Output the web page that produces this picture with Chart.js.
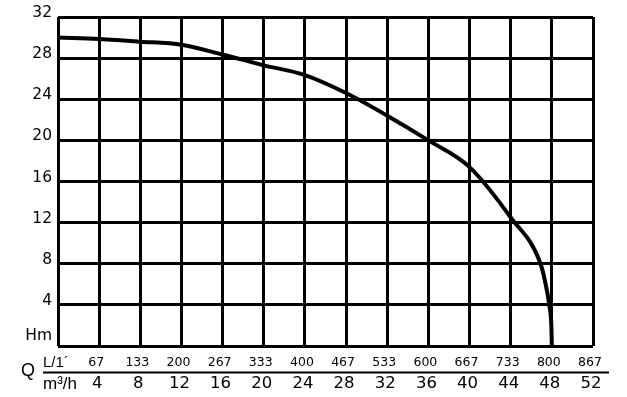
<!DOCTYPE html>
<html>
<head>
<meta charset="utf-8">
<script src="https://cdn.jsdelivr.net/npm/chart.js@4.4.0/dist/chart.umd.min.js"></script>
<style>
body { margin: 0; background: #fff; }
#wrap { width: 627px; height: 397px; }
</style>
</head>
<body>
<div id="wrap"><canvas id="pumpCanvas"></canvas></div>
<script>
// pump curve, Q in m3/h vs head in m
const flowM3h = [0, 4, 8, 12, 16, 20, 24, 28, 32, 36, 40, 44, 46.9, 47.4, 47.75, 47.95, 48];
const headM = [30, 29.85, 29.6, 29.3, 28.35, 27.3, 26.35, 24.6, 22.4, 20, 17.4, 12.5, 8, 6, 4, 2, 0];

const headTicks = ['Hm', '4', '8', '12', '16', '20', '24', '28', '32'];
const flowTicks = ['', '4', '8', '12', '16', '20', '24', '28', '32', '36', '40', '44', '48', '52'];
const litreTicks = ['', '67', '133', '200', '267', '333', '400', '467', '533', '600', '667', '733', '800', '867'];

const font = "'Liberation Sans', Arial, sans-serif";
const tickFont = "'DejaVu Sans', sans-serif";

const axisNotes = {
	id: 'axisNotes',
	afterDraw(chart) {
		const ctx = chart.ctx;
		const area = chart.chartArea;
		const xs = chart.scales.x;
		const lp = chart.scales.lpm;
		ctx.save();
		ctx.strokeStyle = '#000';
		ctx.lineWidth = 2;
		ctx.beginPath();
		ctx.moveTo(area.left - 15, xs.top + 0.5);
		ctx.lineTo(area.right + 16, xs.top + 0.5);
		ctx.stroke();

		ctx.fillStyle = '#000';
		ctx.textBaseline = 'middle';
		ctx.textAlign = 'left';
		ctx.font = '15px ' + font;
		ctx.fillText('L/1´', area.left - 15, lp.top + 17);
		ctx.font = '17px ' + font;
		ctx.fillText('m³/h', area.left - 15, xs.top + 12);
		ctx.textAlign = 'center';
		ctx.font = '18px ' + font;
		ctx.fillText('Q', area.left - 30, xs.top - 1);
		ctx.restore();
	}
};

const ctx = document.querySelector('#pumpCanvas').getContext('2d');

new Chart(ctx, {
	type: 'line',
	data: {
		datasets: [{
			data: flowM3h.map((q, i) => ({ x: q, y: headM[i] })),
			borderColor: '#000',
			borderWidth: 4,
			pointRadius: 0,
			cubicInterpolationMode: 'monotone',
			clip: false
		}]
	},
	options: {
		responsive: true,
		maintainAspectRatio: false,
		animation: false,
		layout: { padding: { left: 0, top: 17, right: 34, bottom: 0 } },
		plugins: {
			legend: { display: false },
			tooltip: { enabled: false }
		},
		scales: {
			x: {
				type: 'linear',
				position: 'bottom',
				weight: 1,
				min: 0,
				max: 52,
				afterFit: (s) => { s.height = 25; },
				grid: { color: '#000', lineWidth: 3, drawTicks: false },
				border: { display: false },
				ticks: {
					stepSize: 4,
					autoSkip: false,
					maxRotation: 0,
					padding: 2,
					labelOffset: -2,
					color: '#000',
					font: { family: tickFont, size: 16.5 },
					callback: (v, i) => flowTicks[i]
				}
			},
			lpm: {
				type: 'linear',
				position: 'bottom',
				weight: 0,
				min: 0,
				max: 52,
				afterFit: (s) => { s.height = 26; },
				grid: { display: false, drawOnChartArea: false, drawTicks: false },
				border: { display: false },
				ticks: {
					stepSize: 4,
					autoSkip: false,
					maxRotation: 0,
					padding: 9,
					labelOffset: -3,
					color: '#000',
					font: { family: tickFont, size: 12.5 },
					callback: (v, i) => litreTicks[i]
				}
			},
			y: {
				min: 0,
				max: 32,
				afterFit: (s) => { s.width = 58; },
				grid: { color: '#000', lineWidth: 3, drawTicks: false },
				border: { display: false },
				ticks: {
					stepSize: 4,
					padding: 6,
					labelOffset: -4,
					color: '#000',
					font: { family: tickFont, size: 15.5, lineHeight: 0.75 },
					callback: (v, i) => i === 0 ? [headTicks[i], ''] : headTicks[i]
				}
			}
		}
	},
	plugins: [axisNotes]
});
</script>
</body>
</html>
